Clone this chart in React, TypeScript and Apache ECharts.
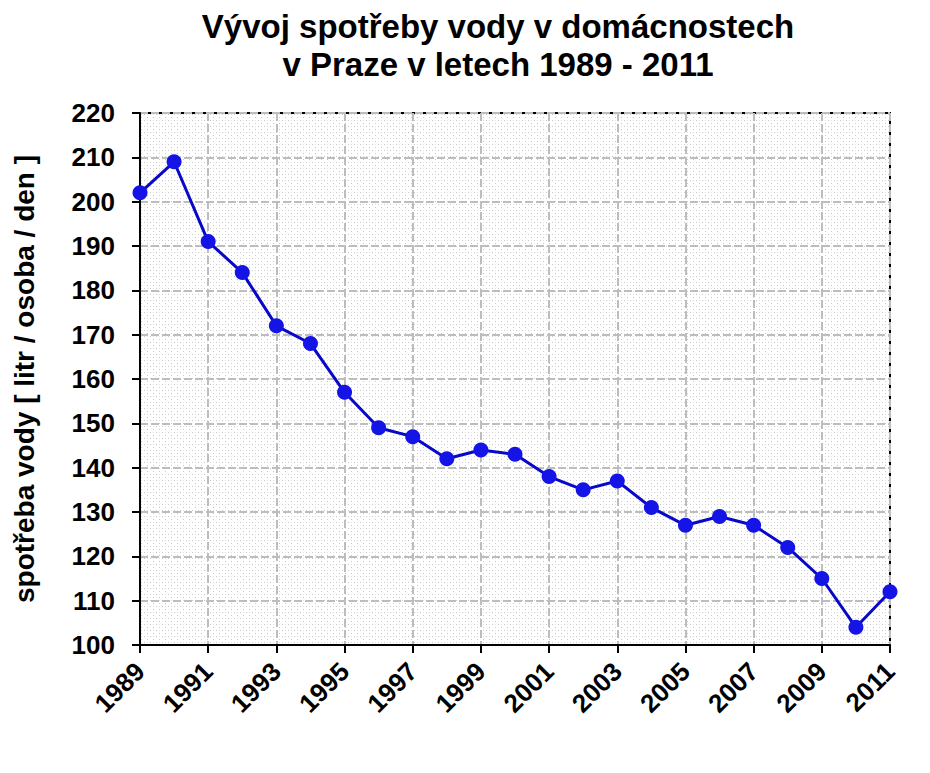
import React, { useEffect, useRef } from "react";
import * as echarts from "echarts";

const years = ["1989","1990","1991","1992","1993","1994","1995","1996","1997","1998","1999","2000","2001","2002","2003","2004","2005","2006","2007","2008","2009","2010","2011"];
const consumption = [202,209,191,184,172,168,157,149,147,142,144,143,138,135,137,131,127,129,127,122,115,104,112];
const titleLines = ["Vývoj spotřeby vody v domácnostech", "v Praze v letech 1989 - 2011"];
const yAxisName = "spotřeba vody [ litr / osoba / den ]";

function makeDots(): string {
  const c = document.createElement("canvas");
  c.width = 6; c.height = 6;
  const ctx = c.getContext("2d");
  if (ctx) {
    ctx.fillStyle = "#ffffff";
    ctx.fillRect(0, 0, 6, 6);
    ctx.fillStyle = "#c8c8c8";
    ctx.fillRect(0, 0, 1, 1);
    ctx.fillRect(3, 3, 1, 1);
    ctx.fillStyle = "#e0e0e0";
    ctx.fillRect(3, 0, 1, 1);
  }
  return c.toDataURL();
}

export default function App() {
  const ref = useRef<HTMLDivElement>(null);
  useEffect(() => {
    document.body.style.margin = "0";
    if (!ref.current) return;
    const chart = echarts.init(ref.current, null, { renderer: "svg" });
    const font = "'Liberation Sans', Arial, sans-serif";
    chart.setOption({
      animation: false,
      backgroundColor: "#ffffff",
      title: {
        text: titleLines.join("\n"),
        left: 493,
        textAlign: "center",
        top: 2,
        textStyle: { fontFamily: font, fontWeight: "bold", fontSize: 33, lineHeight: 38, color: "#000" },
      },
      grid: {
        left: 140, right: 40, top: 113, bottom: 128,
        show: true,
        borderColor: "#000", borderWidth: 2,
        backgroundColor: { image: makeDots(), repeat: "repeat" },
      },
      xAxis: {
        type: "category",
        data: years,
        boundaryGap: false,
        axisLine: { show: true, lineStyle: { color: "#000", width: 2 } },
        axisTick: { show: true, interval: 1, length: 8, lineStyle: { color: "#000", width: 2 } },
        axisLabel: { interval: 1, rotate: 45, margin: 22, fontFamily: font, fontWeight: "bold", fontSize: 26, color: "#000" },
        splitLine: { show: true, interval: 1, lineStyle: { color: "#bdbdbd", width: 2, type: [8, 3] } },
      },
      yAxis: {
        type: "value",
        min: 100, max: 220, interval: 10,
        name: yAxisName,
        nameLocation: "middle",
        nameGap: 102,
        nameTextStyle: { fontFamily: font, fontWeight: "bold", fontSize: 28, color: "#000" },
        axisLine: { show: true, lineStyle: { color: "#000", width: 2 } },
        axisTick: { show: true, length: 8, lineStyle: { color: "#000", width: 2 } },
        axisLabel: { margin: 25, fontFamily: font, fontWeight: "bold", fontSize: 26, color: "#000" },
        splitLine: { show: true, lineStyle: { color: "#bdbdbd", width: 2, type: [8, 3] } },
      },
      series: [{
        type: "line",
        data: consumption,
        symbol: "circle",
        symbolSize: 15,
        lineStyle: { color: "#0808c8", width: 3 },
        itemStyle: { color: "#1414e6" },
      }],
    });
    return () => chart.dispose();
  }, []);
  return <div ref={ref} style={{ width: 930, height: 773 }} />;
}
